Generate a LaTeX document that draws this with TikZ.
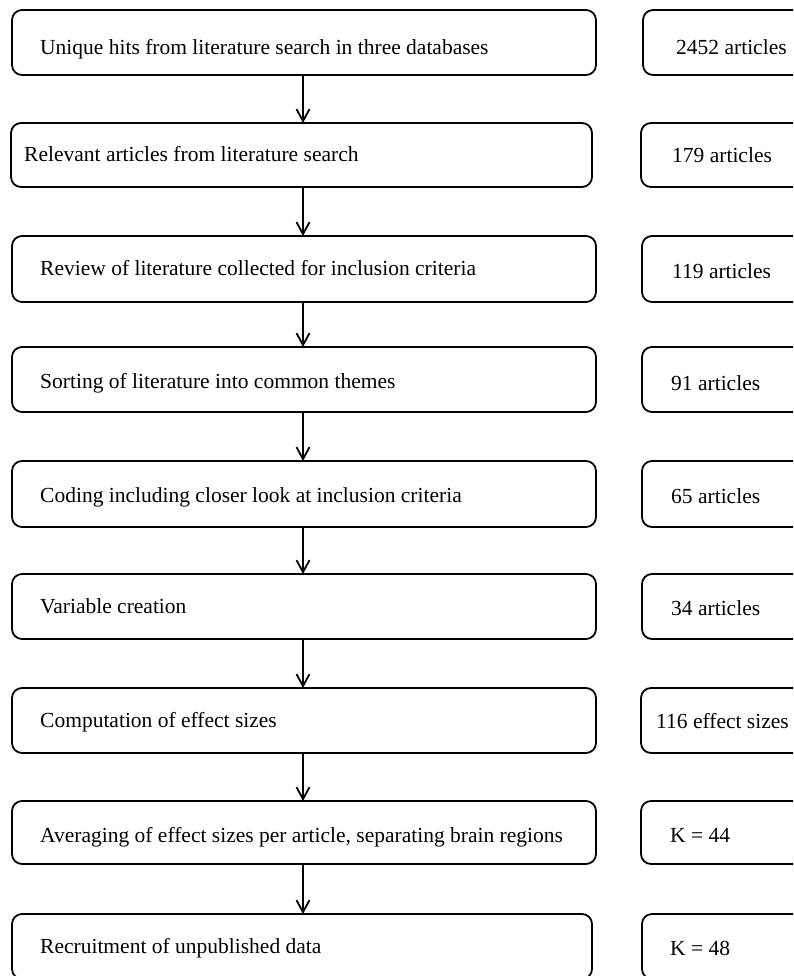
\documentclass[tikz,border=0pt]{standalone}
\usepackage{fontspec}
\setmainfont{Liberation Serif}
\usetikzlibrary{arrows.meta}
\begin{document}
\begin{tikzpicture}[x=1pt,y=-1pt,
  boxstyle/.style={draw=black, line width=1.8pt, rounded corners=10pt, inner sep=0pt, outer sep=0pt},
  txt/.style={anchor=base west, inner sep=0pt, font=\fontsize{21.5}{24}\selectfont},
  flow/.style={line width=2pt, -{Straight Barb[length=12pt,width=13pt,line width=1.8pt]}}]
\useasboundingbox (0,0) rectangle (793,976);
\clip (0,0) rectangle (793,976);
\fill[white] (0,0) rectangle (793,976);
% left boxes
\node[boxstyle, minimum width=584pt, minimum height=65pt, anchor=north west] (b1) at (12,10) {};
\node[boxstyle, minimum width=581pt, minimum height=64pt, anchor=north west] (b2) at (11,123) {};
\node[boxstyle, minimum width=584pt, minimum height=66pt, anchor=north west] (b3) at (12,236) {};
\node[boxstyle, minimum width=584pt, minimum height=65pt, anchor=north west] (b4) at (12,347) {};
\node[boxstyle, minimum width=584pt, minimum height=66pt, anchor=north west] (b5) at (12,461) {};
\node[boxstyle, minimum width=584pt, minimum height=65pt, anchor=north west] (b6) at (12,574) {};
\node[boxstyle, minimum width=584pt, minimum height=65pt, anchor=north west] (b7) at (12,688) {};
\node[boxstyle, minimum width=584pt, minimum height=63pt, anchor=north west] (b8) at (12,801) {};
\node[boxstyle, minimum width=580pt, minimum height=65pt, anchor=north west] (b9) at (12,914) {};
% right boxes
\node[boxstyle, minimum width=200pt, minimum height=65pt, anchor=north west] (r1) at (643,10) {};
\node[boxstyle, minimum width=200pt, minimum height=64pt, anchor=north west] (r2) at (641,123) {};
\node[boxstyle, minimum width=200pt, minimum height=66pt, anchor=north west] (r3) at (642,236) {};
\node[boxstyle, minimum width=200pt, minimum height=65pt, anchor=north west] (r4) at (642,347) {};
\node[boxstyle, minimum width=200pt, minimum height=66pt, anchor=north west] (r5) at (642,461) {};
\node[boxstyle, minimum width=200pt, minimum height=65pt, anchor=north west] (r6) at (642,574) {};
\node[boxstyle, minimum width=200pt, minimum height=65pt, anchor=north west] (r7) at (641,688) {};
\node[boxstyle, minimum width=200pt, minimum height=63pt, anchor=north west] (r8) at (641,801) {};
\node[boxstyle, minimum width=200pt, minimum height=65pt, anchor=north west] (r9) at (642,914) {};
% left texts
\node[txt] (t1) at (40,55) {Unique hits from literature search in three databases};
\node[txt] (t2) at (24,162) {Relevant articles from literature search};
\node[txt] (t3) at (40,275) {Review of literature collected for inclusion criteria};
\node[txt] (t4) at (40,388) {Sorting of literature into common themes};
\node[txt] (t5) at (40,502) {Coding including closer look at inclusion criteria};
\node[txt] (t6) at (40,613) {Variable creation};
\node[txt] (t7) at (40,727) {Computation of effect sizes};
\node[txt] (t8) at (40,842) {Averaging of effect sizes per article, separating brain regions};
\node[txt] (t9) at (40,953) {Recruitment of unpublished data};
% right texts
\node[txt] (s1) at (676,55) {2452 articles};
\node[txt] (s2) at (672,163) {179 articles};
\node[txt] (s3) at (672,278) {119 articles};
\node[txt] (s4) at (671,390) {91 articles};
\node[txt] (s5) at (671,503) {65 articles};
\node[txt] (s6) at (671,615) {34 articles};
\node[txt] (s7) at (656,728) {116 effect sizes};
\node[txt] (s8) at (670,842) {K = 44};
\node[txt] (s9) at (670,955) {K = 48};
% arrows
\coordinate (ax) at (303,0);
\foreach \a/\b in {b1/b2,b2/b3,b3/b4,b4/b5,b5/b6,b6/b7,b7/b8,b8/b9}
  \draw[flow] (ax |- \a.south) -- (ax |- \b.north);
\end{tikzpicture}
\end{document}
